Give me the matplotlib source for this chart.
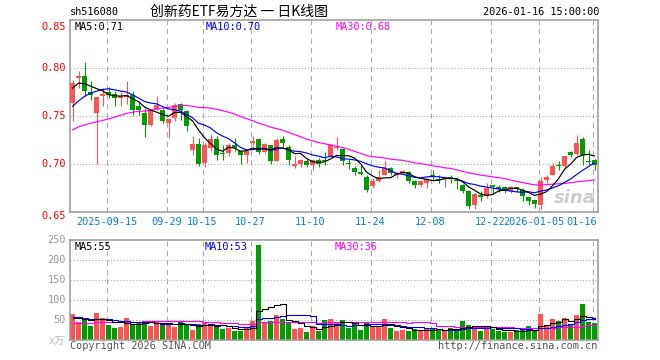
import numpy as np
import pandas as pd
import matplotlib
matplotlib.use('Agg')
import matplotlib.pyplot as plt

# daily candles, 2025-09-05 .. 2026-01-16 (88 trading days)
opens = [0.7635, 0.790, 0.7913, 0.7747, 0.7528, 0.7708, 0.775, 0.7733, 0.7688, 0.7695,
         0.7722, 0.760, 0.7531, 0.7403, 0.7576, 0.7566, 0.7427, 0.748, 0.7628, 0.7549,
         0.7149, 0.7212, 0.7007, 0.7167, 0.7264, 0.7115, 0.7115, 0.7201, 0.7139, 0.709,
         0.7215, 0.7264, 0.7125, 0.7194, 0.7035, 0.7264, 0.7181, 0.6976, 0.70, 0.7035,
         0.6993, 0.7045, 0.7045, 0.708, 0.7167, 0.716, 0.7011, 0.6958, 0.6913, 0.6868,
         0.6767, 0.6826, 0.6889, 0.6958, 0.6889, 0.6903, 0.6917, 0.6819, 0.6778, 0.6802,
         0.6889, 0.6847, 0.6847, 0.6865, 0.6833, 0.6785, 0.6715, 0.6569, 0.668, 0.6667,
         0.6778, 0.6757, 0.6757, 0.6715, 0.6757, 0.6733, 0.6653, 0.6628, 0.6569, 0.6833,
         0.6889, 0.6986, 0.6983, 0.7122, 0.7104, 0.7264, 0.7035, 0.7045]
closes = [0.7844, 0.792, 0.7757, 0.7715, 0.7694, 0.7729, 0.7722, 0.7688, 0.7705, 0.7722,
          0.7566, 0.7566, 0.741, 0.7549, 0.7611, 0.7444, 0.7469, 0.7611, 0.7559, 0.7392,
          0.7212, 0.70, 0.7201, 0.7264, 0.7097, 0.7104, 0.7201, 0.7167, 0.709, 0.7139,
          0.7236, 0.7125, 0.7208, 0.7028, 0.7253, 0.7215, 0.7042, 0.70, 0.7042, 0.6993,
          0.7042, 0.70, 0.7035, 0.7194, 0.7174, 0.7028, 0.70, 0.6917, 0.690, 0.6733,
          0.6826, 0.6861, 0.6958, 0.6906, 0.6906, 0.693, 0.6819, 0.6778, 0.6826, 0.6847,
          0.6868, 0.6833, 0.686, 0.6847, 0.6826, 0.6715, 0.6559, 0.6688, 0.6653, 0.6753,
          0.6757, 0.6743, 0.6733, 0.6757, 0.6743, 0.6663, 0.6618, 0.6583, 0.6826, 0.6868,
          0.6976, 0.6976, 0.708, 0.709, 0.7219, 0.7097, 0.7021, 0.6986]
highs = [0.7878, 0.797, 0.8063, 0.7861, 0.7694, 0.779, 0.780, 0.7764, 0.775, 0.786,
         0.7757, 0.7653, 0.7583, 0.7556, 0.7705, 0.7583, 0.748, 0.7635, 0.7635, 0.7566,
         0.7288, 0.7271, 0.7219, 0.7316, 0.7288, 0.7194, 0.7219, 0.7271, 0.715, 0.715,
         0.7288, 0.7271, 0.7219, 0.7201, 0.7271, 0.7288, 0.7194, 0.7087, 0.7056, 0.7056,
         0.7056, 0.7063, 0.7125, 0.7208, 0.728, 0.7167, 0.7056, 0.6976, 0.6986, 0.6882,
         0.6854, 0.6941, 0.7035, 0.6965, 0.6917, 0.694, 0.6924, 0.6836, 0.6837, 0.6854,
         0.6941, 0.6882, 0.6868, 0.6889, 0.6868, 0.6792, 0.6733, 0.6698, 0.6715, 0.6806,
         0.6785, 0.6785, 0.6767, 0.6767, 0.6764, 0.675, 0.6653, 0.6628, 0.6861, 0.6882,
         0.701, 0.7035, 0.708, 0.7132, 0.7306, 0.7278, 0.715, 0.7056]
lows = [0.7444, 0.779, 0.7705, 0.767, 0.70, 0.760, 0.7688, 0.760, 0.760, 0.762,
        0.7514, 0.7514, 0.7278, 0.7392, 0.7566, 0.7427, 0.7271, 0.7444, 0.7462, 0.734,
        0.7097, 0.6976, 0.6965, 0.7132, 0.7045, 0.7045, 0.708, 0.7132, 0.70, 0.701,
        0.7184, 0.7104, 0.7115, 0.7003, 0.7028, 0.7167, 0.6993, 0.6958, 0.6965, 0.6965,
        0.6941, 0.6965, 0.6993, 0.7069, 0.715, 0.6993, 0.6951, 0.6882, 0.689, 0.6708,
        0.675, 0.6813, 0.6882, 0.6889, 0.6854, 0.6896, 0.6802, 0.675, 0.6757, 0.675,
        0.6819, 0.6802, 0.6764, 0.6802, 0.6743, 0.6698, 0.6535, 0.6535, 0.6611, 0.6649,
        0.6698, 0.6708, 0.6698, 0.6698, 0.6708, 0.6611, 0.657, 0.6542, 0.6535, 0.6802,
        0.6882, 0.6937, 0.6958, 0.7069, 0.7097, 0.6993, 0.6993, 0.6941]
# volume, 万
volumes = [65, 45, 55, 35, 67.5, 55, 38, 30, 32.5, 55,
           40, 45, 45, 35, 45, 40, 42, 32.5, 45, 38,
           25, 40, 42.5, 40, 32.5, 27.5, 30, 22.5, 22.5, 33,
           48, 238, 45, 48, 62.5, 52.5, 45, 27.5, 30, 20,
           35, 22.5, 50, 52.5, 45, 50, 30, 40, 25, 45,
           35, 35, 52.5, 30, 22.5, 25, 22.5, 27.5, 22.5, 30,
           27.5, 27.5, 22.5, 30, 27.5, 47.5, 37.5, 35, 22.5, 35,
           28, 22.5, 21, 20, 25, 25, 35, 25, 65, 37.5,
           52.5, 47.5, 55, 40, 62.5, 90, 45, 42.5]

# the 29 sessions before the window (estimated from where the MA lines start)
prior_closes = [0.705, 0.712, 0.718, 0.725, 0.731, 0.722, 0.716, 0.709, 0.714, 0.721,
                0.728, 0.735, 0.729, 0.722, 0.716, 0.724, 0.730, 0.731, 0.738, 0.743,
                0.735, 0.729, 0.738, 0.748, 0.755, 0.766, 0.779, 0.784, 0.782]
prior_volumes = [30, 28, 35, 40, 32, 27, 38, 45, 36, 30,
                 33, 29, 41, 37, 34, 31, 38, 36, 32, 38,
                 52, 68, 61, 57, 57, 48, 60, 55, 47]

tick_idx = [6, 16, 22, 30, 40, 50, 60, 70, 78, 87]
tick_labels = ['2025-09-15', '09-29', '10-15', '10-27', '11-10', '11-24',
               '12-08', '12-22', '2026-01-05', '01-16']

W, H = 660, 360
UP, DOWN = '#ff5252', '#009c00'
GRID = '#aaaaaa'
MONO = 'DejaVu Sans Mono'

n = len(closes)
x = np.arange(n)
up = np.array(closes) >= np.array(opens)
colors = [UP if u else DOWN for u in up]

allc = pd.Series(prior_closes + closes)
allv = pd.Series(prior_volumes + volumes)
ma = {k: allc.rolling(k).mean().values[-n:] for k in (5, 10, 30)}
vma = {k: allv.rolling(k).mean().values[-n:] for k in (5, 10, 30)}


def fx(px):
    return px / W


def fy(py):
    return 1 - py / H


fig = plt.figure(figsize=(6.6, 3.6), dpi=100)
ax = fig.add_axes([fx(70), fy(212), fx(598) - fx(70), fy(20) - fy(212)])
axv = fig.add_axes([fx(70), fy(340), fx(598) - fx(70), fy(240) - fy(340)])

for a in (ax, axv):
    a.set_xlim(-0.42, n - 0.42)
    a.set_xticks([])
    a.set_yticks([])
    for s in a.spines.values():
        s.set_color('#9a9a9a')
        s.set_linewidth(1.1)
    for t in tick_idx:
        a.axvline(t - 0.3, color=GRID, lw=0.75, ls=(0, (5, 4)), zorder=0)

ax.set_ylim(0.65, 0.85)
axv.set_ylim(0, 250)
for yv in (0.70, 0.75, 0.80):
    ax.axhline(yv, color=GRID, lw=0.75, ls=(0, (1, 2)), zorder=0)
for yv in (50, 100, 150, 200):
    axv.axhline(yv, color=GRID, lw=0.75, ls=(0, (1, 2)), zorder=0)

# candles
body = np.maximum(np.abs(np.array(closes) - np.array(opens)), 0.0011)
ax.vlines(x, lows, highs, colors=colors, lw=0.8, zorder=2)
ax.bar(x, body, bottom=np.minimum(opens, closes), width=0.83, color=colors, zorder=3)
ax.plot(x, ma[30], color='#ff00ff', lw=0.85, zorder=4)
ax.plot(x, ma[10], color='#0000ff', lw=0.85, zorder=4)
ax.plot(x, ma[5], color='black', lw=0.85, zorder=4)

# volume
axv.bar(x, volumes, width=0.83, color=colors, zorder=2)
axv.plot(x, vma[30], color='#ff00ff', lw=0.8, drawstyle='steps-mid', zorder=3)
axv.plot(x, vma[10], color='#0000ff', lw=0.8, drawstyle='steps-mid', zorder=3)
axv.plot(x, vma[5], color='black', lw=0.8, drawstyle='steps-mid', zorder=3)

# header
fig.text(fx(70), fy(12), 'sh516080', family=MONO, fontsize=7.4, va='center')
fig.text(fx(150), fy(12), '创新药ETF易方达 一 日K线图', family=['Noto Sans CJK SC', 'DejaVu Sans'],
         fontsize=10, va='center')
fig.text(fx(599), fy(12), '2026-01-16 15:00:00', family=MONO, fontsize=7.4, va='center', ha='right')

# legends
fig.text(fx(75), fy(27), 'MA5:0.71', family=MONO, fontsize=7.4, va='center')
fig.text(fx(206), fy(27), 'MA10:0.70', family=MONO, fontsize=7.4, va='center', color='#0000ff')
fig.text(fx(336), fy(27), 'MA30:0.68', family=MONO, fontsize=7.4, va='center', color='#ff00ff')
fig.text(fx(75), fy(247), 'MA5:55', family=MONO, fontsize=7.4, va='center')
fig.text(fx(205), fy(247), 'MA10:53', family=MONO, fontsize=7.4, va='center', color='#0000ff')
fig.text(fx(335), fy(247), 'MA30:36', family=MONO, fontsize=7.4, va='center', color='#ff00ff')

# price axis labels
for yv, off in ((0.85, 7), (0.80, 0), (0.75, 0), (0.70, 0), (0.65, 4)):
    py = 20 + (0.85 - yv) / 0.2 * 192 + off
    fig.text(fx(66), fy(py), f'{yv:.2f}', family=MONO, fontsize=7.4, color='red',
             va='center', ha='right')

# volume axis labels
for vv in (250, 200, 150, 100, 50):
    py = 340 - vv / 250 * 100
    fig.text(fx(66), fy(py), str(vv), family=MONO, fontsize=7.4, color='#999999',
             va='center', ha='right')
fig.text(fx(49), fy(341), 'x万', family=['DejaVu Sans Mono', 'Noto Sans CJK SC'],
         fontsize=7.4, color='#bbbbbb', va='center')

# date labels (the last two are crowded at the right edge)
for t, lab in zip(tick_idx, tick_labels):
    px = 72.5 + 6 * t - 2
    if lab == '01-16':
        fig.text(fx(597), fy(222), lab, family=MONO, fontsize=7.4, color='#0a80d0',
                 va='center', ha='right')
    elif lab == '2026-01-05':
        fig.text(fx(564), fy(222), lab, family=MONO, fontsize=7.4, color='#0a80d0',
                 va='center', ha='right')
    else:
        fig.text(fx(px), fy(222), lab, family=MONO, fontsize=7.4, color='#0a80d0',
                 va='center', ha='center')

# footer
fig.text(fx(70), fy(346), 'Copyright 2026 SINA.COM', family=MONO, fontsize=7.4,
         color='#555555', va='center')
fig.text(fx(597), fy(346), 'http://finance.sina.com.cn', family=MONO, fontsize=7.4,
         color='#555555', va='center', ha='right')

# watermark
fig.text(fx(596), fy(198), 'sina', fontsize=13, fontweight='bold', style='italic',
         color='#cccccc', va='center', ha='right', zorder=1)

fig.savefig('out.png', dpi=100)
